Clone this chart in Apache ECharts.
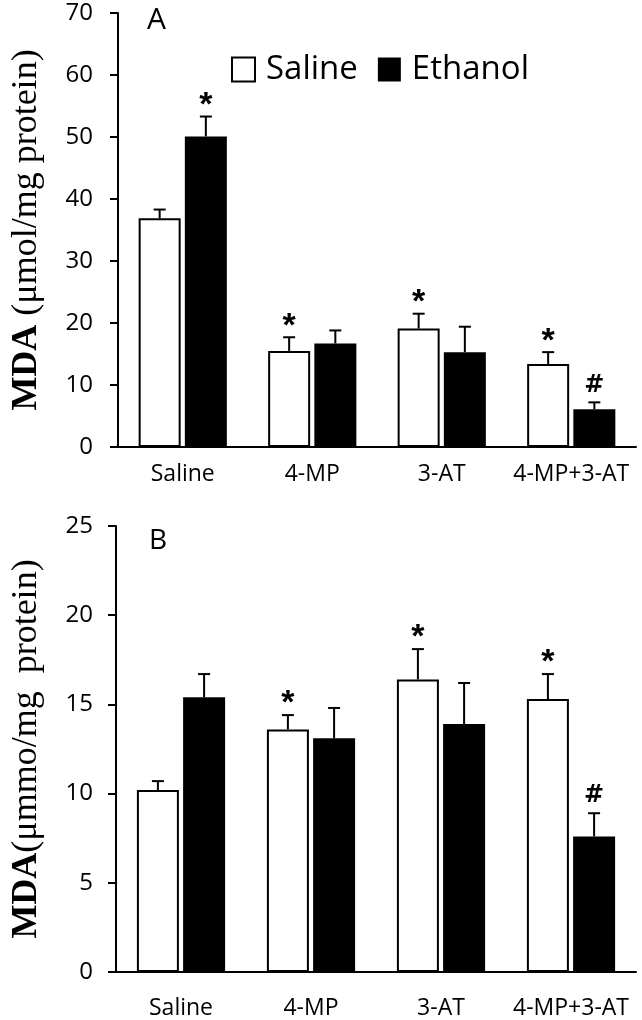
<!DOCTYPE html>
<html><head><meta charset="utf-8">
<script src="https://cdn.jsdelivr.net/npm/echarts@6/dist/echarts.min.js"></script>
<style>html,body{margin:0;padding:0;background:#fff}#c{width:642px;height:1020px}</style>
</head><body><div id="c"></div>
<script>
// ---- data ----
const categories = ['Saline', '4-MP', '3-AT', '4-MP+3-AT'];
const seriesNames = ['Saline', 'Ethanol'];

const aSaline = [36.9, 15.5, 19.1, 13.4];
const aEthanol = [50.1, 16.7, 15.3, 6.1];
const aSalineErr = [1.4, 2.2, 2.4, 1.9];
const aEthanolErr = [3.2, 2.1, 4.1, 1.1];
const aSalineMark = ['', '*', '*', '*'];
const aEthanolMark = ['*', '', '', '#'];
const aAxis = [0, 70, 10];

const bSaline = [10.2, 13.6, 16.4, 15.3];
const bEthanol = [15.4, 13.1, 13.9, 7.6];
const bSalineErr = [0.5, 0.8, 1.7, 1.4];
const bEthanolErr = [1.3, 1.7, 2.3, 1.3];
const bSalineMark = ['', '*', '*', '*'];
const bEthanolMark = ['', '', '', '#'];
const bAxis = [0, 25, 5];

const panelLabels = ['A', 'B'];
const yNameA = ['MDA', ' (μmol/mg protein)'];
const yNameB = ['MDA', '(μmmo/mg  protein)'];

// ---- style ----
const BAR_W = 42, BAR_GAP = '10%';
const OFFSET = (BAR_W + BAR_W * 0.10) / 2;
const CAP = 6;
const markStyle = {
  '*': { font: 'bold 34px "Liberation Sans"', dy: 11 },
  '#': { font: 'bold 24px "DejaVu Sans"', dy: 17 }
};
const SANS = '"Open Sans"';
const SERIF = '"Liberation Serif"';

function errSeries(idx, vals, errs, marks, side) {
  return {
    type: 'custom', xAxisIndex: idx, yAxisIndex: idx, z: 5, clip: false,
    silent: true,
    data: vals.map((v, i) => [i, v, errs[i]]),
    renderItem(params, api) {
      const i = api.value(0), v = api.value(1), e = api.value(2);
      const top = api.coord([i, v + e]);
      const base = api.coord([i, v]);
      const x = top[0] + side * OFFSET;
      const children = [
        { type: 'line', shape: { x1: x, y1: base[1], x2: x, y2: top[1] }, style: { stroke: '#000', lineWidth: 2 } },
        { type: 'line', shape: { x1: x - CAP, y1: top[1], x2: x + CAP, y2: top[1] }, style: { stroke: '#000', lineWidth: 2 } }
      ];
      const m = marks[params.dataIndex];
      if (m) {
        const ms = markStyle[m];
        children.push({ type: 'text', style: { text: m, x: x, y: top[1] - ms.dy, align: 'center', verticalAlign: 'middle', font: ms.font, fill: '#000' } });
      }
      return { type: 'group', children };
    }
  };
}

function barSeries(idx, name, vals, white) {
  return {
    type: 'bar', name: name, xAxisIndex: idx, yAxisIndex: idx,
    barWidth: BAR_W, barGap: BAR_GAP,
    data: vals,
    itemStyle: white ? { color: '#fff', borderColor: '#000', borderWidth: 2 } : { color: '#000', borderColor: '#000', borderWidth: 0 },
    emphasis: { disabled: true }
  };
}

function xAx(idx, margin) {
  return {
    type: 'category', gridIndex: idx, data: categories,
    axisLine: { lineStyle: { color: '#000', width: 2 } },
    axisTick: { show: false },
    axisLabel: { color: '#000', fontFamily: SANS, fontSize: 23, margin: margin, interval: 0, hideOverlap: false }
  };
}
function yAx(idx, range, nameParts, gap, margin) {
  return {
    type: 'value', gridIndex: idx, min: range[0], max: range[1], interval: range[2],
    name: '{b|' + nameParts[0] + '}{r|' + nameParts[1] + '}',
    nameLocation: 'middle', nameRotate: 90, nameGap: gap,
    nameTextStyle: {
      rich: {
        b: { fontFamily: SERIF, fontWeight: 'bold', fontSize: 36, color: '#000' },
        r: { fontFamily: SERIF, fontWeight: 'normal', fontSize: 36, color: '#000' }
      }
    },
    axisLine: { show: true, lineStyle: { color: '#000', width: 2 } },
    axisTick: { show: true, inside: false, length: 8, lineStyle: { color: '#000', width: 2 } },
    axisLabel: { color: '#000', fontFamily: SANS, fontSize: 24, margin: margin },
    splitLine: { show: false }
  };
}

const chart = echarts.init(document.getElementById('c'), null, { renderer: 'canvas' });
chart.setOption({
  animation: false,
  backgroundColor: '#fff',
  title: [
    { text: panelLabels[0], left: 142, top: 0, textStyle: { fontFamily: SANS, fontWeight: 'normal', fontSize: 30, color: '#000' } },
    { text: panelLabels[1], left: 144, top: 522, textStyle: { fontFamily: SANS, fontWeight: 'normal', fontSize: 28, color: '#000' } }
  ],
  legend: {
    data: seriesNames, left: 226, top: 48, itemWidth: 23, itemHeight: 24, itemGap: 20,
    icon: 'rect',
    textStyle: { fontFamily: SANS, fontSize: 33, color: '#000', padding: [0, 0, 0, 6] },
    selectedMode: false
  },
  grid: [
    { left: 118, right: 6, top: 13, bottom: 573 },
    { left: 116, right: 6, top: 526, bottom: 44 }
  ],
  xAxis: [xAx(0, 16), xAx(1, 25)],
  yAxis: [yAx(0, aAxis, yNameA, 73, 25), yAx(1, bAxis, yNameB, 71, 23)],
  series: [
    barSeries(0, seriesNames[0], aSaline, true),
    barSeries(0, seriesNames[1], aEthanol, false),
    errSeries(0, aSaline, aSalineErr, aSalineMark, -1),
    errSeries(0, aEthanol, aEthanolErr, aEthanolMark, 1),
    barSeries(1, seriesNames[0], bSaline, true),
    barSeries(1, seriesNames[1], bEthanol, false),
    errSeries(1, bSaline, bSalineErr, bSalineMark, -1),
    errSeries(1, bEthanol, bEthanolErr, bEthanolMark, 1)
  ]
});
</script></body></html>
